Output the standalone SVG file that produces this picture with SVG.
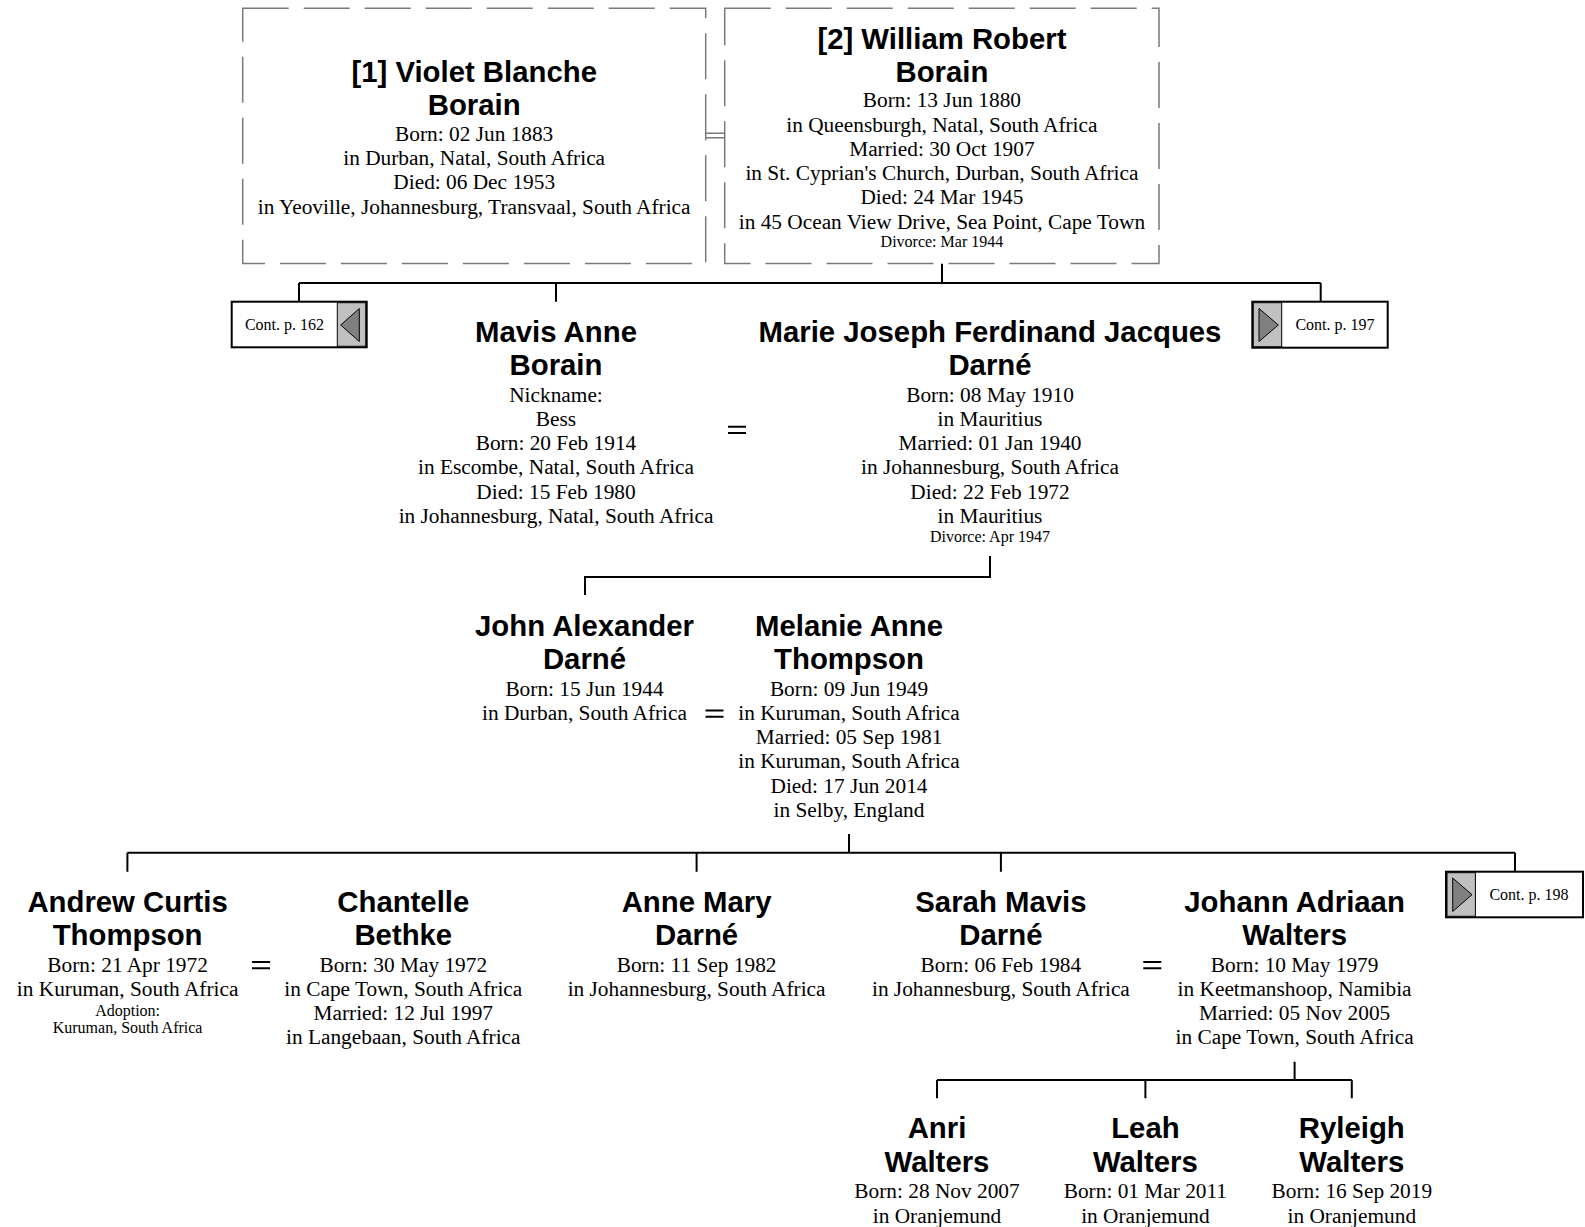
<svg xmlns="http://www.w3.org/2000/svg" width="1585" height="1227" viewBox="0 0 1585 1227">
<defs>
<style>
.nm{font-family:"Liberation Sans",Arial,sans-serif;font-weight:bold;font-size:29.33px;fill:#000;text-anchor:middle}
.dt{font-family:"Liberation Serif","Times New Roman",serif;font-size:21.33px;fill:#000;text-anchor:middle}
.sm{font-family:"Liberation Serif","Times New Roman",serif;font-size:16px;fill:#000;text-anchor:middle}
.ln{fill:none;stroke:#000;stroke-width:2}
.eq{fill:none;stroke:#000;stroke-width:2}
.dash{fill:#fff;stroke:#7a7a7a;stroke-width:1.5;stroke-dasharray:46 15}
.cbox{fill:#fff;stroke:#000;stroke-width:2}
.cgray{fill:#c0c0c0;stroke:#000;stroke-width:1}
.tri{fill:#808080;stroke:#000;stroke-width:1}
</style>
</defs>
<rect width="1585" height="1227" fill="#fff"/>

<g id="connectors">
<path class="ln" d="M942 263.5V283M299 283H1320.7M299 283V301.7M556 283V301.7M1320.7 283V301.7"/>
<path d="M705.7 133.3H724.7M705.7 137.7H724.7" fill="none" stroke="#7a7a7a" stroke-width="1.5"/>
<path class="ln" d="M990 556V577H585V595"/>
<path class="ln" d="M849 834V852.7M127.4 852.7H1515M127.4 852.7V871.7M696.6 852.7V871.7M1000.9 852.7V871.7M1515 852.7V871.7"/>
<path class="ln" d="M1294.6 1061.7V1080M937 1080H1351.8M937 1080V1098.3M1145.4 1080V1098.3M1351.8 1080V1098.3"/>
<path class="eq" d="M728 426.7H746M728 433H746"/>
<path class="eq" d="M705.5 710.5H723.5M705.5 716.8H723.5"/>
<path class="eq" d="M252 962H270M252 968.3H270"/>
<path class="eq" d="M1143.3 962H1161.3M1143.3 968.3H1161.3"/>
</g>

<g id="violet">
<rect class="dash" x="242.7" y="8.3" width="463" height="255.2"/>
<text class="nm" x="474.2" y="81.8">[1] Violet Blanche</text>
<text class="nm" x="474.2" y="115.1">Borain</text>
<text class="dt" x="474.2" y="140.7">Born: 02 Jun 1883</text>
<text class="dt" x="474.2" y="165">in Durban, Natal, South Africa</text>
<text class="dt" x="474.2" y="189.3">Died: 06 Dec 1953</text>
<text class="dt" x="474.2" y="213.5">in Yeoville, Johannesburg, Transvaal, South Africa</text>
</g>

<g id="william">
<rect class="dash" x="724.7" y="8.3" width="434.3" height="255.2"/>
<text class="nm" x="941.9" y="48.5">[2] William Robert</text>
<text class="nm" x="941.9" y="81.8">Borain</text>
<text class="dt" x="941.9" y="107.2">Born: 13 Jun 1880</text>
<text class="dt" x="941.9" y="131.5">in Queensburgh, Natal, South Africa</text>
<text class="dt" x="941.9" y="155.8">Married: 30 Oct 1907</text>
<text class="dt" x="941.9" y="180">in St. Cyprian's Church, Durban, South Africa</text>
<text class="dt" x="941.9" y="204.3">Died: 24 Mar 1945</text>
<text class="dt" x="941.9" y="228.6">in 45 Ocean View Drive, Sea Point, Cape Town</text>
<text class="sm" x="941.9" y="247.3">Divorce: Mar 1944</text>
</g>

<g id="cont162">
<rect class="cbox" x="231.7" y="301.7" width="135" height="45.6"/>
<rect class="cgray" x="337.3" y="302.7" width="28.4" height="43.6"/>
<path class="tri" d="M359.3 308.5V341.5L340.7 325Z"/>
<text class="sm" x="284.5" y="330">Cont. p. 162</text>
</g>

<g id="cont197">
<rect class="cbox" x="1252.3" y="301.7" width="135.4" height="46"/>
<rect class="cgray" x="1253.3" y="302.7" width="28.4" height="44"/>
<path class="tri" d="M1259 308.5V341.5L1278.3 325Z"/>
<text class="sm" x="1335" y="330">Cont. p. 197</text>
</g>

<g id="mavis">
<text class="nm" x="556" y="341.5">Mavis Anne</text>
<text class="nm" x="556" y="374.9">Borain</text>
<text class="dt" x="556" y="401.5">Nickname:</text>
<text class="dt" x="556" y="425.8">Bess</text>
<text class="dt" x="556" y="450">Born: 20 Feb 1914</text>
<text class="dt" x="556" y="474.3">in Escombe, Natal, South Africa</text>
<text class="dt" x="556" y="498.6">Died: 15 Feb 1980</text>
<text class="dt" x="556" y="522.8">in Johannesburg, Natal, South Africa</text>
</g>

<g id="marie">
<text class="nm" x="990" y="341.5">Marie Joseph Ferdinand Jacques</text>
<text class="nm" x="990" y="374.9">Darné</text>
<text class="dt" x="990" y="401.5">Born: 08 May 1910</text>
<text class="dt" x="990" y="425.8">in Mauritius</text>
<text class="dt" x="990" y="450">Married: 01 Jan 1940</text>
<text class="dt" x="990" y="474.3">in Johannesburg, South Africa</text>
<text class="dt" x="990" y="498.6">Died: 22 Feb 1972</text>
<text class="dt" x="990" y="522.8">in Mauritius</text>
<text class="sm" x="990" y="542">Divorce: Apr 1947</text>
</g>

<g id="john">
<text class="nm" x="584.5" y="635.7">John Alexander</text>
<text class="nm" x="584.5" y="669">Darné</text>
<text class="dt" x="584.5" y="695.7">Born: 15 Jun 1944</text>
<text class="dt" x="584.5" y="719.9">in Durban, South Africa</text>
</g>

<g id="melanie">
<text class="nm" x="849" y="635.7">Melanie Anne</text>
<text class="nm" x="849" y="669">Thompson</text>
<text class="dt" x="849" y="695.7">Born: 09 Jun 1949</text>
<text class="dt" x="849" y="719.9">in Kuruman, South Africa</text>
<text class="dt" x="849" y="744.2">Married: 05 Sep 1981</text>
<text class="dt" x="849" y="768.4">in Kuruman, South Africa</text>
<text class="dt" x="849" y="792.7">Died: 17 Jun 2014</text>
<text class="dt" x="849" y="817">in Selby, England</text>
</g>

<g id="andrew">
<text class="nm" x="127.6" y="911.6">Andrew Curtis</text>
<text class="nm" x="127.6" y="945">Thompson</text>
<text class="dt" x="127.6" y="971.6">Born: 21 Apr 1972</text>
<text class="dt" x="127.6" y="995.9">in Kuruman, South Africa</text>
<text class="sm" x="127.6" y="1015.5">Adoption:</text>
<text class="sm" x="127.6" y="1033">Kuruman, South Africa</text>
</g>

<g id="chantelle">
<text class="nm" x="403.3" y="911.6">Chantelle</text>
<text class="nm" x="403.3" y="945">Bethke</text>
<text class="dt" x="403.3" y="971.6">Born: 30 May 1972</text>
<text class="dt" x="403.3" y="995.9">in Cape Town, South Africa</text>
<text class="dt" x="403.3" y="1020.1">Married: 12 Jul 1997</text>
<text class="dt" x="403.3" y="1044.4">in Langebaan, South Africa</text>
</g>

<g id="annemary">
<text class="nm" x="696.6" y="911.6">Anne Mary</text>
<text class="nm" x="696.6" y="945">Darné</text>
<text class="dt" x="696.6" y="971.6">Born: 11 Sep 1982</text>
<text class="dt" x="696.6" y="995.9">in Johannesburg, South Africa</text>
</g>

<g id="sarah">
<text class="nm" x="1000.9" y="911.6">Sarah Mavis</text>
<text class="nm" x="1000.9" y="945">Darné</text>
<text class="dt" x="1000.9" y="971.6">Born: 06 Feb 1984</text>
<text class="dt" x="1000.9" y="995.9">in Johannesburg, South Africa</text>
</g>

<g id="johann">
<text class="nm" x="1294.6" y="911.6">Johann Adriaan</text>
<text class="nm" x="1294.6" y="945">Walters</text>
<text class="dt" x="1294.6" y="971.6">Born: 10 May 1979</text>
<text class="dt" x="1294.6" y="995.9">in Keetmanshoop, Namibia</text>
<text class="dt" x="1294.6" y="1020.1">Married: 05 Nov 2005</text>
<text class="dt" x="1294.6" y="1044.4">in Cape Town, South Africa</text>
</g>

<g id="cont198">
<rect class="cbox" x="1446" y="871.7" width="137" height="45.6"/>
<rect class="cgray" x="1447" y="872.7" width="28.4" height="43.6"/>
<path class="tri" d="M1452.7 878V911.5L1472 894.7Z"/>
<text class="sm" x="1529" y="900">Cont. p. 198</text>
</g>

<g id="anri">
<text class="nm" x="937" y="1138">Anri</text>
<text class="nm" x="937" y="1172">Walters</text>
<text class="dt" x="937" y="1198">Born: 28 Nov 2007</text>
<text class="dt" x="937" y="1222.5">in Oranjemund</text>
</g>

<g id="leah">
<text class="nm" x="1145.4" y="1138">Leah</text>
<text class="nm" x="1145.4" y="1172">Walters</text>
<text class="dt" x="1145.4" y="1198">Born: 01 Mar 2011</text>
<text class="dt" x="1145.4" y="1222.5">in Oranjemund</text>
</g>

<g id="ryleigh">
<text class="nm" x="1351.8" y="1138">Ryleigh</text>
<text class="nm" x="1351.8" y="1172">Walters</text>
<text class="dt" x="1351.8" y="1198">Born: 16 Sep 2019</text>
<text class="dt" x="1351.8" y="1222.5">in Oranjemund</text>
</g>
</svg>
